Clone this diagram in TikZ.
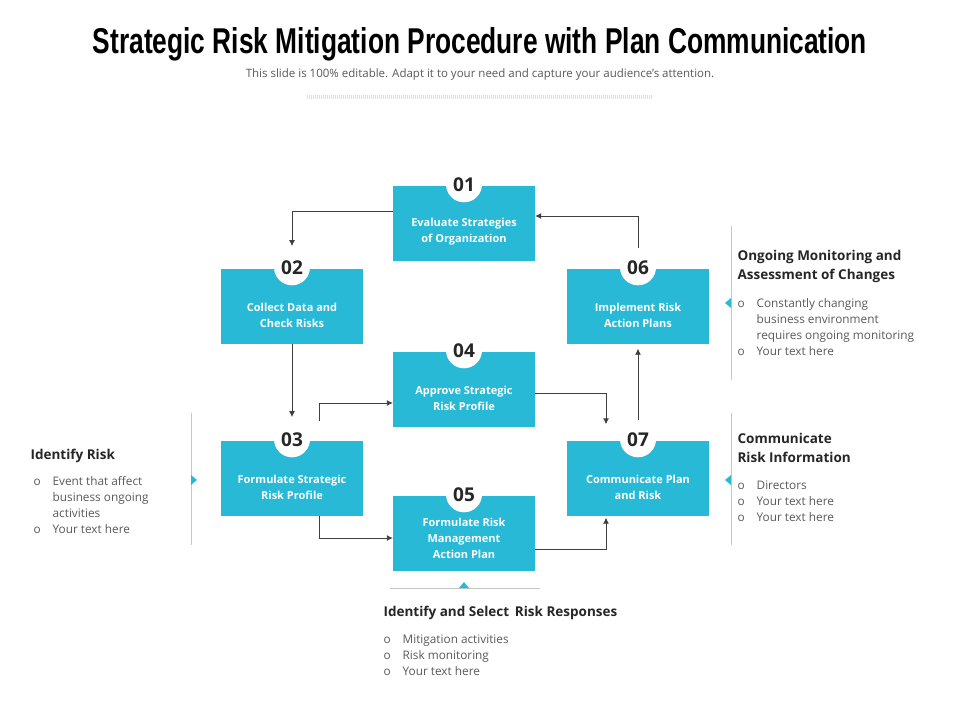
\documentclass[tikz,border=0pt]{standalone}
\usepackage{fontspec}
\setmainfont{Open Sans}
\newfontfamily\titlefont{Liberation Sans}
\usetikzlibrary{arrows.meta,positioning}
\definecolor{boxcyan}{HTML}{28B9D7}
\definecolor{txtgray}{HTML}{595959}
\definecolor{headgray}{HTML}{262626}
\definecolor{arrgray}{HTML}{3F3F3F}
\tikzset{stepbox/.style={rectangle, fill=boxcyan, minimum width=142pt, minimum height=75pt, inner sep=0pt},
  steptext/.style={text=white, font=\bfseries\fontsize{11}{16}\selectfont, align=center},
  numcirc/.style={circle, fill=white, minimum size=36pt, inner sep=0pt},
  numtext/.style={font=\bfseries\fontsize{19}{19}\selectfont, text=headgray},
  line/.style={draw=arrgray, line width=0.9pt, -{Latex[length=6pt,width=6pt]}},
  head/.style={anchor=west, align=left, text=headgray, font=\bfseries\fontsize{13.5}{19}\selectfont},
  bul/.style={anchor=west, align=left, text=txtgray, font=\fontsize{11.8}{16}\selectfont},
  side/.style={draw=gray!45, line width=0.8pt},
  tip/.style={fill=boxcyan}}
\newcommand{\bl}{o\hspace{12pt}}
\newcommand{\bi}{\hphantom{o}\hspace{12pt}}
\begin{document}
\begin{tikzpicture}[x=1pt,y=-1pt]
	\useasboundingbox (0,0) rectangle (960,720);
	% title
	\node (title) at (480,44) {\resizebox{774pt}{26pt}{\titlefont\bfseries Strategic Risk Mitigation Procedure with Plan Communication}};
	\node [text=txtgray, font=\fontsize{11.5}{12}\selectfont] (sub) at (480,75) {This slide is 100\% editable. Adapt it to your need and capture your audience’s attention.};
	\draw [gray!25, line width=4pt, dash pattern=on 1pt off 1pt] (307,97) -- (653,97);
	% step boxes
	\node [stepbox] (b1) at (464,223) {};
	\node [stepbox] (b2) at (292,306) {};
	\node [stepbox] (b6) at (638,306) {};
	\node [stepbox] (b4) at (464,389) {};
	\node [stepbox] (b3) at (292,478) {};
	\node [stepbox] (b7) at (638,478) {};
	\node [stepbox] (b5) at (464,533) {};
	\foreach \b/\n/\t in {b1/01/{Evaluate Strategies\\of Organization}, b2/02/{Collect Data and\\Check Risks}, b6/06/{Implement Risk\\Action Plans}, b4/04/{Approve Strategic\\Risk Profile}, b3/03/{Formulate Strategic\\Risk Profile}, b7/07/{Communicate Plan\\and Risk}} {
		\node [numcirc] (\b c) at ([yshift=1pt]\b.north) {};
		\node [numtext] at (\b c) {\n};
		\node [steptext] at ([yshift=-9pt]\b.center) {\t};
	}
	\node [numcirc] (b5c) at ([yshift=1pt]b5.north) {};
	\node [numtext] at (b5c) {05};
	\node [steptext] at ([yshift=-5pt]b5.center) {Formulate Risk\\Management\\Action Plan};
	% connectors
	\draw [line] ([yshift=12pt]b1.west) -| ([yshift=3pt]b2c.north);
	\draw [line] ([yshift=1pt]b6c.north) |- ([yshift=7pt]b1.east);
	\draw [line] (b2.south) -- ([yshift=4pt]b3c.north);
	\draw [line] ([xshift=27pt,yshift=19pt]b3.north) |- ([yshift=-14pt]b4.west);
	\draw [line] ([yshift=-4pt]b4.east) -| ([xshift=-32pt,yshift=16pt]b7.north);
	\draw [line] ([yshift=1pt]b7c.north) -- ([yshift=-5pt]b6.south);
	\draw [line] ([xshift=27pt]b3.south) |- ([yshift=-5pt]b5.west);
	\draw [line] ([yshift=-16pt]b5.east) -| ([xshift=-32pt,yshift=-2pt]b7.south);
	% side brackets
	\draw [side] (191,413) -- (191,545);
	\fill [tip] (191,475) -- (197,480) -- (191,485) -- cycle;
	\draw [side] (731,226) -- (731,380);
	\fill [tip] (731,298) -- (725,303) -- (731,308) -- cycle;
	\draw [side] (731,413) -- (731,545);
	\fill [tip] (731,475) -- (725,480) -- (731,485) -- cycle;
	\draw [side] (390,588) -- (540,588);
	\fill [tip] (459,588) -- (464,582) -- (469,588) -- cycle;
	% side texts
	\node [head] (hl) at (27,456) {Identify Risk};
	\node [bul] (tl) at (30,505) {\bl Event that affect\\\bi business ongoing\\\bi activities\\\bl Your text here};
	\node [head] (hr1) at (734,266) {Ongoing Monitoring and\\Assessment of Changes};
	\node [bul] (tr1) at (734,327) {\bl Constantly changing\\\bi business environment\\\bi requires ongoing monitoring\\\bl Your text here};
	\node [head] (hr2) at (734,448) {Communicate\\Risk Information};
	\node [bul] (tr2) at (734,501) {\bl Directors\\\bl Your text here\\\bl Your text here};
	\node [head] (hb) at (380,613) {Identify and Select\, Risk Responses};
	\node [bul] (tb) at (380,655) {\bl Mitigation activities\\\bl Risk monitoring\\\bl Your text here};
\end{tikzpicture}
\end{document}
